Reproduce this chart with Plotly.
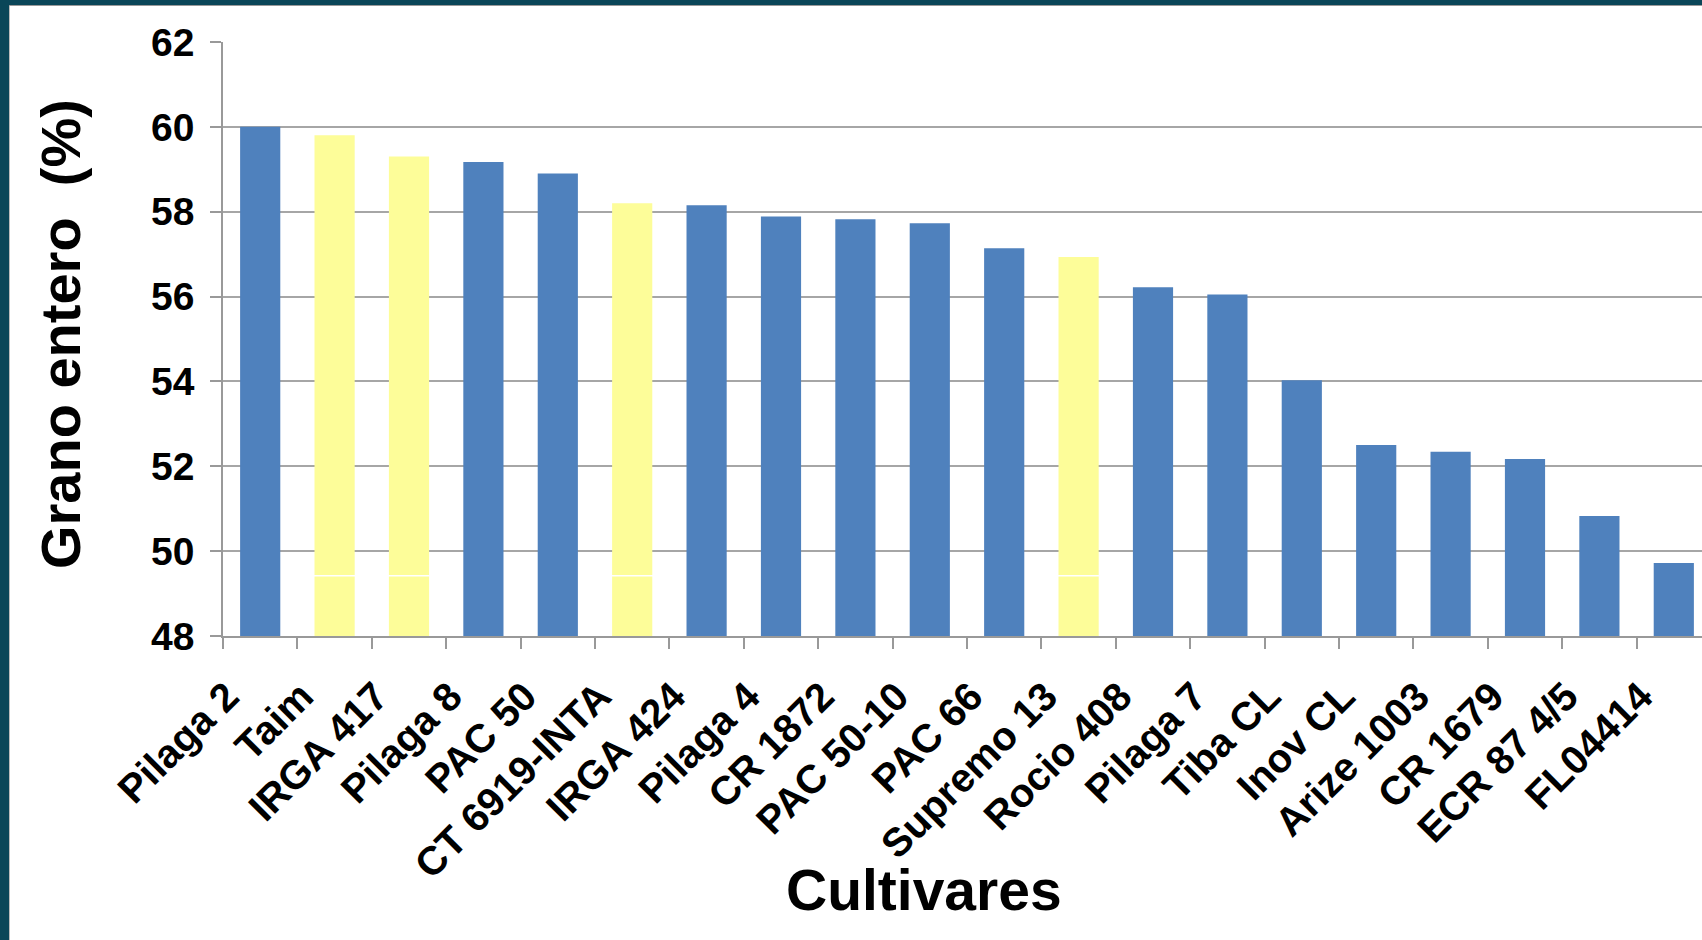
import plotly.graph_objects as go

# ---------------- data ----------------
cultivars = ["Pilaga 2", "Taim", "IRGA 417", "Pilaga 8", "PAC 50", "CT 6919-INTA",
             "IRGA 424", "Pilaga 4", "CR 1872", "PAC 50-10", "PAC 66", "Supremo 13",
             "Rocio 408", "Pilaga 7", "Tiba CL", "Inov CL", "Arize 1003", "CR 1679",
             "ECR 87 4/5", "FL04414"]
grano_entero = [60.0, 59.8, 59.3, 59.17, 58.9, 58.2,
                58.15, 57.89, 57.82, 57.73, 57.14, 56.93,
                56.22, 56.05, 54.03, 52.5, 52.34, 52.17,
                50.83, 49.72]
highlighted = ["Taim", "IRGA 417", "CT 6919-INTA", "Supremo 13"]
y_ticks = [48, 50, 52, 54, 56, 58, 60, 62]
split_level = 49.4   # thin white separator visible inside the yellow bars

# ---------------- style ----------------
W, H = 1702, 940
L, R, T, B = 223, 0, 42, 304
BLUE = "#4F81BD"
YELLOW = "#FDFD99"
GRID = "#A6A6A6"
AXIS = "#999999"
FONT = "Arial, 'Liberation Sans', sans-serif"
BORDER = "#0A4658"
BAR_W = 0.54

plot_w = W - L - R
plot_h = H - T - B


def px_x(p):
    return (p - L) / plot_w


def px_y(p):
    return (H - B - p) / plot_h


blue_x = [c for c in cultivars if c not in highlighted]
blue_y = [v for c, v in zip(cultivars, grano_entero) if c not in highlighted]
yel_x = [c for c in cultivars if c in highlighted]
yel_y = [v for c, v in zip(cultivars, grano_entero) if c in highlighted]

fig = go.Figure()
fig.add_trace(go.Bar(x=blue_x, y=blue_y, width=BAR_W, marker=dict(color=BLUE, line=dict(width=0)),
                     showlegend=False))
fig.add_trace(go.Bar(x=yel_x, y=[split_level] * len(yel_x), width=BAR_W,
                     marker=dict(color=YELLOW, line=dict(width=0)), showlegend=False))
gap = 0.035
fig.add_trace(go.Bar(x=yel_x, y=[v - split_level - gap for v in yel_y],
                     base=[split_level + gap] * len(yel_x), width=BAR_W,
                     marker=dict(color=YELLOW, line=dict(width=0)), showlegend=False))

fig.update_layout(
    width=W, height=H,
    margin=dict(l=L, r=R, t=T, b=B, autoexpand=False),
    paper_bgcolor="white", plot_bgcolor="white",
    barmode="overlay",
    font=dict(family=FONT, color="black"),
)

fig.update_xaxes(
    type="category", categoryorder="array", categoryarray=cultivars,
    range=[-0.5, -0.5 + plot_w / 74.4],
    tickangle=-45, tickson="boundaries", ticks="outside", ticklen=11, tickcolor=AXIS,
    tickwidth=1.5, ticklabelshift=-33, ticklabelstandoff=19,
    tickfont=dict(family=FONT, size=40, color="black", weight="bold"),
    showline=True, linecolor=AXIS, linewidth=1.5, showgrid=False, zeroline=False,
    automargin=False,
)
fig.update_yaxes(
    range=[48, 62], tickvals=y_ticks, ticktext=[str(t) for t in y_ticks],
    ticks="outside", ticklen=11, tickcolor=AXIS, tickwidth=1.5, ticklabelstandoff=8,
    tickfont=dict(family=FONT, size=39, color="black", weight="bold"),
    showline=True, linecolor=AXIS, linewidth=1.5,
    showgrid=True, gridcolor=GRID, gridwidth=1.5, zeroline=False,
    automargin=False,
)

fig.add_annotation(text="Grano entero  (%)", xref="paper", yref="paper",
                   x=px_x(60), y=px_y(334), xanchor="center", yanchor="middle",
                   textangle=-90, showarrow=False,
                   font=dict(family=FONT, size=56, color="black", weight="bold"))
fig.add_annotation(text="Cultivares", xref="paper", yref="paper",
                   x=px_x(924), y=px_y(890), xanchor="center", yanchor="middle",
                   showarrow=False,
                   font=dict(family=FONT, size=57, color="black", weight="bold"))

# frame of the slide (left and top dark bands)
fig.add_shape(type="rect", xref="paper", yref="paper",
              x0=px_x(0), x1=px_x(9), y0=px_y(H), y1=px_y(0),
              fillcolor=BORDER, line=dict(width=0), layer="above")
fig.add_shape(type="rect", xref="paper", yref="paper",
              x0=px_x(0), x1=px_x(W), y0=px_y(5), y1=px_y(0),
              fillcolor=BORDER, line=dict(width=0), layer="above")
fig.add_shape(type="line", xref="paper", yref="paper",
              x0=px_x(9.5), x1=px_x(9.5), y0=px_y(H), y1=px_y(5),
              line=dict(color="#BBBBBB", width=1), layer="above")
fig.add_shape(type="line", xref="paper", yref="paper",
              x0=px_x(9), x1=px_x(W), y0=px_y(5.5), y1=px_y(5.5),
              line=dict(color="#999999", width=1), layer="above")

fig.write_html("out.html", config={"displayModeBar": False},
               post_script="document.body.style.margin='0';document.body.style.overflow='hidden';")
